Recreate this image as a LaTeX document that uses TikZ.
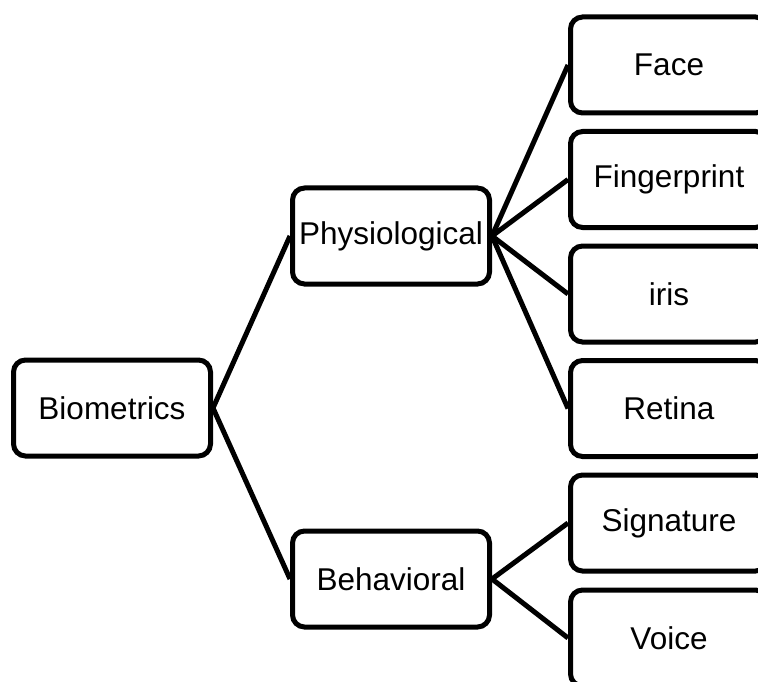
\documentclass[tikz,border=0pt]{standalone}
\usepackage{fontspec}
\setmainfont{Liberation Sans}
\begin{document}
\begin{tikzpicture}[x=1pt,y=-1pt,
  box/.style={draw=black, line width=5pt, rounded corners=12pt, minimum width=197pt, minimum height=96pt, inner sep=0pt, fill=white, font=\fontsize{31.5}{36}\selectfont},
  link/.style={draw=black, line width=5pt}]
\useasboundingbox (0,0) rectangle (758,682);
\clip (0,0) rectangle (758,682);
\node[box] (bio) at (112,408) {Biometrics};
\node[box] (phy) at (391,236) {Physiological};
\node[box] (beh) at (391,579) {Behavioral};
\node[box] (face) at (669,65) {Face};
\node[box] (fing) at (669,179.5) {Fingerprint};
\node[box] (iris) at (669,294) {iris};
\node[box] (ret) at (669,408.5) {Retina};
\node[box] (sig) at (669,523) {Signature};
\node[box] (voi) at (669,638) {Voice};
\draw[link] (bio.east) -- (phy.west);
\draw[link] (bio.east) -- (beh.west);
\draw[link] (phy.east) -- (face.west);
\draw[link] (phy.east) -- (fing.west);
\draw[link] (phy.east) -- (iris.west);
\draw[link] (phy.east) -- (ret.west);
\draw[link] (beh.east) -- (sig.west);
\draw[link] (beh.east) -- (voi.west);
\end{tikzpicture}
\end{document}
